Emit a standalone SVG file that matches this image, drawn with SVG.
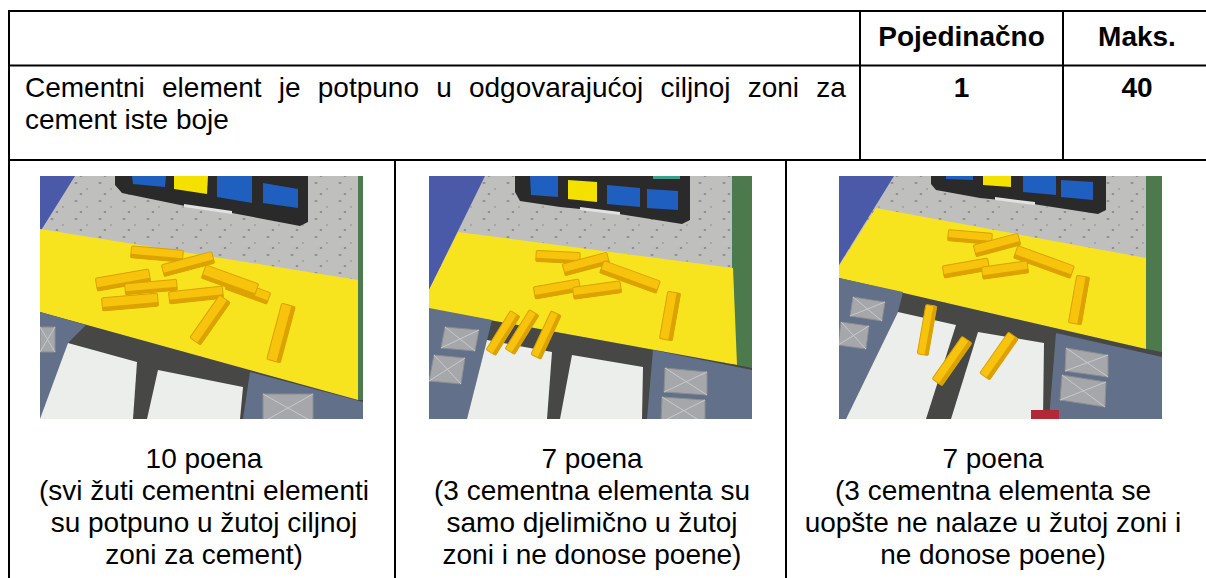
<svg xmlns="http://www.w3.org/2000/svg" width="1206" height="578" viewBox="0 0 1206 578">
<style>
.t{font-family:"Liberation Sans",Arial,sans-serif;font-size:28px;fill:#000}
.b{font-weight:bold}
.c{text-anchor:middle}
.ln{stroke:#000;stroke-width:2;fill:none}
.gray{fill:#bfbfbd}
.blue{fill:#4b59a9}
.green{fill:#4c7a4c}
.ylw{fill:#f7e41f}
.floor{fill:#474745}
.panel{fill:#627189}
.white{fill:#eceeec}
.tray{fill:#2a2a2a}
.sq{fill:#1f5fc0}
.sqy{fill:#f5e100}
.pyr{fill:#a6a7aa;stroke:#8b8c90;stroke-width:1}
.pyd{stroke:#c9c9cb;stroke-width:1}
.brick{fill:#f7c30c;stroke:#d8a200;stroke-width:1}
.bside{fill:#dba200}
</style>
<defs>
<pattern id="spk" width="24" height="18" patternUnits="userSpaceOnUse">
<ellipse cx="4" cy="3" rx="1.6" ry="1" fill="#8d8d8d"/>
<ellipse cx="15" cy="9" rx="1.2" ry="0.8" fill="#969696"/>
<ellipse cx="9" cy="14" rx="1.4" ry="0.9" fill="#8a8a8a"/>
</pattern>
<clipPath id="c1"><rect x="40" y="176" width="323" height="243"/></clipPath>
<clipPath id="c2"><rect x="429" y="176" width="323" height="243"/></clipPath>
<clipPath id="c3"><rect x="839" y="176" width="323" height="243"/></clipPath>
</defs>
<rect width="1206" height="578" fill="#fff"/>

<g id="connectors">
<line class="ln" x1="9" y1="11" x2="1206" y2="11"/>
<line class="ln" x1="9" y1="65.5" x2="1206" y2="65.5"/>
<line class="ln" x1="9" y1="160" x2="1206" y2="160"/>
<line class="ln" x1="9" y1="10" x2="9" y2="578"/>
<line class="ln" x1="860" y1="11" x2="860" y2="160"/>
<line class="ln" x1="1063" y1="11" x2="1063" y2="160"/>
<line class="ln" x1="395" y1="160" x2="395" y2="578"/>
<line class="ln" x1="786" y1="160" x2="786" y2="578"/>
</g>

<g id="header">
<text class="t b c" x="961.5" y="46">Pojedinačno</text>
<text class="t b c" x="1137" y="46">Maks.</text>
</g>

<g id="row-criterion">
<text class="t" x="25" y="97" style="word-spacing:9.4px">Cementni element je potpuno u odgovarajućoj ciljnoj zoni za</text>
<text class="t" x="25" y="129">cement iste boje</text>
<text class="t b c" x="961.5" y="97">1</text>
<text class="t b c" x="1137" y="97">40</text>
</g>

<g id="photo1" clip-path="url(#c1)">
<rect class="gray" x="40" y="176" width="323" height="243"/>
<rect fill="url(#spk)" x="40" y="176" width="323" height="243"/>
<polygon class="blue" points="40,176 75,176 40,232"/>
<rect class="green" x="358" y="176" width="5" height="226"/>
<polygon class="ylw" points="40,229 358,280 358,400 40,312"/>
<polygon class="floor" points="40,312 358,400 363,400 363,419 40,419"/>
<polygon class="panel" points="40,312 86,325 68,343 45,419 40,419"/>
<g><rect class="pyr" x="40" y="327" width="15" height="25"/><line class="pyd" x1="40" y1="327" x2="55" y2="352"/><line class="pyd" x1="55" y1="327" x2="40" y2="352"/></g>
<polygon class="white" points="68,343 137,362 133,419 40,419"/>
<polygon class="white" points="158,370 243,387 240,419 147,419"/>
<polygon class="panel" points="250,372 363,402 363,419 243,419"/>
<g><rect class="pyr" x="263" y="394" width="50" height="28"/><line class="pyd" x1="263" y1="394" x2="313" y2="422"/><line class="pyd" x1="313" y1="394" x2="263" y2="422"/></g>
<polygon class="tray" points="115,176 308,176 308,222 300,226 232,213 185,206 122,193 115,185"/>
<polygon fill="#e2e2e2" points="184,204 232,211 232,214 184,207"/>
<polygon class="sq" points="132,176 166,176 165,187 133,184"/>
<polygon class="sqy" points="174,176 208,176 207,194 174,189"/>
<polygon class="sq" points="217,176 252,176 252,203 217,197"/>
<polygon class="sq" points="263,183 298,189 298,208 263,203"/>
<g transform="translate(157 254) rotate(5)"><rect class="brick" x="-26" y="-6" width="52" height="12" rx="1.5"/><rect class="bside" x="-26" y="2" width="52" height="4"/></g>
<g transform="translate(188 264) rotate(-15)"><rect class="brick" x="-26" y="-6" width="52" height="12" rx="1.5"/><rect class="bside" x="-26" y="2" width="52" height="4"/></g>
<g transform="translate(123 280) rotate(-10)"><rect class="brick" x="-27" y="-6.5" width="54" height="13" rx="1.5"/><rect class="bside" x="-27" y="2.5" width="54" height="4"/></g>
<g transform="translate(151 287) rotate(-5)"><rect class="brick" x="-26" y="-5.5" width="52" height="11" rx="1.5"/><rect class="bside" x="-26" y="2" width="52" height="3.5"/></g>
<g transform="translate(130 302) rotate(-5)"><rect class="brick" x="-28" y="-6.5" width="56" height="13" rx="1.5"/><rect class="bside" x="-28" y="2.5" width="56" height="4"/></g>
<g transform="translate(196 295) rotate(-6)"><rect class="brick" x="-27" y="-6" width="54" height="12" rx="1.5"/><rect class="bside" x="-27" y="2" width="54" height="4"/></g>
<g transform="translate(248 291) rotate(20)"><rect class="brick" x="-22" y="-6" width="44" height="12" rx="1.5"/><rect class="bside" x="-22" y="2" width="44" height="4"/></g>
<g transform="translate(230 281) rotate(20)"><rect class="brick" x="-28" y="-7" width="56" height="14" rx="1.5"/><rect class="bside" x="-28" y="3" width="56" height="4"/></g>
<g transform="translate(210 320) rotate(-55)"><rect class="brick" x="-26" y="-6.5" width="52" height="13" rx="1.5"/><rect class="bside" x="-26" y="2.5" width="52" height="4"/></g>
<g transform="translate(281 333) rotate(-75)"><rect class="brick" x="-29" y="-7" width="58" height="14" rx="1.5"/><rect class="bside" x="-29" y="3" width="58" height="4"/></g>
</g>

<g id="photo2" clip-path="url(#c2)">
<rect class="gray" x="429" y="176" width="323" height="243"/>
<rect fill="url(#spk)" x="429" y="176" width="323" height="243"/>
<polygon class="blue" points="429,176 485,176 429,290"/>
<rect class="green" x="732" y="176" width="20" height="192"/>
<polygon class="ylw" points="458,232 733,268 737,365 429,309 429,290"/>
<polygon class="floor" points="429,309 737,365 752,368 752,419 429,419"/>
<polygon class="panel" points="429,308 492,320 487,340 467,419 429,419"/>
<g><polygon class="pyr" points="445,327 479,330 475,351 441,348"/><line class="pyd" x1="445" y1="327" x2="475" y2="351"/><line class="pyd" x1="479" y1="330" x2="441" y2="348"/></g>
<g><polygon class="pyr" points="434,355 465,358 461,384 429,381"/><line class="pyd" x1="434" y1="355" x2="461" y2="384"/><line class="pyd" x1="465" y1="358" x2="429" y2="381"/></g>
<polygon class="white" points="487,340 552,352 547,419 467,419"/>
<polygon class="white" points="572,355 643,367 642,419 560,419"/>
<polygon class="panel" points="653,350 752,370 752,419 647,419"/>
<g><polygon class="pyr" points="665,368 707,372 707,395 664,392"/><line class="pyd" x1="665" y1="368" x2="707" y2="395"/><line class="pyd" x1="707" y1="372" x2="664" y2="392"/></g>
<g><polygon class="pyr" points="662,397 705,400 705,424 661,422"/><line class="pyd" x1="662" y1="397" x2="705" y2="424"/><line class="pyd" x1="705" y1="400" x2="661" y2="422"/></g>
<polygon class="tray" points="515,176 690,176 690,220 682,224 600,211 560,207 520,201 515,192"/>
<polygon fill="#e2e2e2" points="580,207 620,212 620,215 580,210"/>
<polygon fill="#3aa08a" points="653,176 680,176 680,179 653,179"/>
<polygon class="sq" points="530,176 558,176 558,197 531,195"/>
<polygon class="sqy" points="568,180 597,182 597,202 568,199"/>
<polygon class="sq" points="607,185 640,188 640,207 607,204"/>
<polygon class="sq" points="647,189 678,191 678,210 647,208"/>
<g transform="translate(558 257) rotate(3)"><rect class="brick" x="-22" y="-5.5" width="44" height="11" rx="1.5"/><rect class="bside" x="-22" y="2" width="44" height="3.5"/></g>
<g transform="translate(586 264) rotate(-15)"><rect class="brick" x="-23" y="-6" width="46" height="12" rx="1.5"/><rect class="bside" x="-23" y="2" width="46" height="4"/></g>
<g transform="translate(630 277) rotate(20)"><rect class="brick" x="-30" y="-6.5" width="60" height="13" rx="1.5"/><rect class="bside" x="-30" y="2.5" width="60" height="4"/></g>
<g transform="translate(557 289) rotate(-10)"><rect class="brick" x="-23" y="-6" width="46" height="12" rx="1.5"/><rect class="bside" x="-23" y="2" width="46" height="4"/></g>
<g transform="translate(597 290) rotate(-8)"><rect class="brick" x="-24" y="-6" width="48" height="12" rx="1.5"/><rect class="bside" x="-24" y="2" width="48" height="4"/></g>
<g transform="translate(670 316) rotate(-80)"><rect class="brick" x="-24" y="-6.5" width="48" height="13" rx="1.5"/><rect class="bside" x="-24" y="2.5" width="48" height="4"/></g>
<g transform="translate(503 333) rotate(-58)"><rect class="brick" x="-23" y="-5.5" width="46" height="11" rx="1.5"/><rect class="bside" x="-23" y="2" width="46" height="3.5"/></g>
<g transform="translate(522 332) rotate(-58)"><rect class="brick" x="-23" y="-5.5" width="46" height="11" rx="1.5"/><rect class="bside" x="-23" y="2" width="46" height="3.5"/></g>
<g transform="translate(546 335) rotate(-65)"><rect class="brick" x="-24" y="-5.5" width="48" height="11" rx="1.5"/><rect class="bside" x="-24" y="2" width="48" height="3.5"/></g>
</g>

<g id="photo3" clip-path="url(#c3)">
<rect class="gray" x="839" y="176" width="323" height="243"/>
<rect fill="url(#spk)" x="839" y="176" width="323" height="243"/>
<polygon class="blue" points="839,176 894,176 839,265"/>
<rect class="green" x="1146" y="176" width="16" height="176"/>
<polygon class="ylw" points="876,208 1146,258 1146,349 1141,348 839,278 839,266"/>
<polygon class="floor" points="839,278 1146,349 1162,352 1162,419 839,419"/>
<polygon class="panel" points="839,278 903,292 898,312 846,419 839,419"/>
<g><polygon class="pyr" points="853,297 885,302 882,321 850,316"/><line class="pyd" x1="853" y1="297" x2="882" y2="321"/><line class="pyd" x1="885" y1="302" x2="850" y2="316"/></g>
<g><polygon class="pyr" points="841,322 869,326 866,349 838,345"/><line class="pyd" x1="841" y1="322" x2="866" y2="349"/><line class="pyd" x1="869" y1="326" x2="838" y2="345"/></g>
<polygon class="white" points="898,312 956,325 926,419 846,419"/>
<polygon class="white" points="978,332 1044,343 1043,419 951,419"/>
<polygon class="panel" points="1056,333 1162,357 1162,419 1049,419"/>
<g><polygon class="pyr" points="1066,348 1108,355 1108,377 1065,371"/><line class="pyd" x1="1066" y1="348" x2="1108" y2="377"/><line class="pyd" x1="1108" y1="355" x2="1065" y2="371"/></g>
<g><polygon class="pyr" points="1062,375 1106,382 1105,407 1060,400"/><line class="pyd" x1="1062" y1="375" x2="1105" y2="407"/><line class="pyd" x1="1106" y1="382" x2="1060" y2="400"/></g>
<rect fill="#b02a35" x="1031" y="410" width="28" height="10"/>
<polygon class="tray" points="931,176 1106,176 1106,210 1098,214 1020,202 980,198 936,190 931,184"/>
<polygon fill="#e2e2e2" points="995,197 1035,202 1035,205 995,200"/>
<polygon class="sq" points="946,176 973,176 973,180 946,179"/>
<polygon class="sqy" points="983,176 1011,176 1011,187 983,185"/>
<polygon class="sq" points="1023,176 1056,176 1056,195 1023,192"/>
<polygon class="sq" points="1061,180 1093,182 1093,200 1061,197"/>
<g transform="translate(970 237) rotate(5)"><rect class="brick" x="-22" y="-5.5" width="44" height="11" rx="1.5"/><rect class="bside" x="-22" y="2" width="44" height="3.5"/></g>
<g transform="translate(997 245) rotate(-15)"><rect class="brick" x="-23" y="-6" width="46" height="12" rx="1.5"/><rect class="bside" x="-23" y="2" width="46" height="4"/></g>
<g transform="translate(1044 262) rotate(20)"><rect class="brick" x="-30" y="-6.5" width="60" height="13" rx="1.5"/><rect class="bside" x="-30" y="2.5" width="60" height="4"/></g>
<g transform="translate(966 268) rotate(-10)"><rect class="brick" x="-23" y="-6" width="46" height="12" rx="1.5"/><rect class="bside" x="-23" y="2" width="46" height="4"/></g>
<g transform="translate(1005 270) rotate(-8)"><rect class="brick" x="-23" y="-6" width="46" height="12" rx="1.5"/><rect class="bside" x="-23" y="2" width="46" height="4"/></g>
<g transform="translate(1079 300) rotate(-80)"><rect class="brick" x="-24" y="-6.5" width="48" height="13" rx="1.5"/><rect class="bside" x="-24" y="2.5" width="48" height="4"/></g>
<g transform="translate(927 330) rotate(-80)"><rect class="brick" x="-25" y="-5.5" width="50" height="11" rx="1.5"/><rect class="bside" x="-25" y="2" width="50" height="3.5"/></g>
<g transform="translate(952 361) rotate(-55)"><rect class="brick" x="-26" y="-6" width="52" height="12" rx="1.5"/><rect class="bside" x="-26" y="2" width="52" height="4"/></g>
<g transform="translate(999 356) rotate(-55)"><rect class="brick" x="-25" y="-6" width="50" height="12" rx="1.5"/><rect class="bside" x="-25" y="2" width="50" height="4"/></g>
</g>

<g id="caption1">
<text class="t c" x="204" y="468">10 poena</text>
<text class="t c" x="204" y="500">(svi žuti cementni elementi</text>
<text class="t c" x="204" y="532">su potpuno u žutoj ciljnoj</text>
<text class="t c" x="204" y="564">zoni za cement)</text>
</g>
<g id="caption2">
<text class="t c" x="592" y="468">7 poena</text>
<text class="t c" x="592" y="500">(3 cementna elementa su</text>
<text class="t c" x="592" y="532">samo djelimično u žutoj</text>
<text class="t c" x="592" y="564">zoni i ne donose poene)</text>
</g>
<g id="caption3">
<text class="t c" x="993" y="468">7 poena</text>
<text class="t c" x="993" y="500">(3 cementna elementa se</text>
<text class="t c" x="993" y="532">uopšte ne nalaze u žutoj zoni i</text>
<text class="t c" x="993" y="564">ne donose poene)</text>
</g>
</svg>
